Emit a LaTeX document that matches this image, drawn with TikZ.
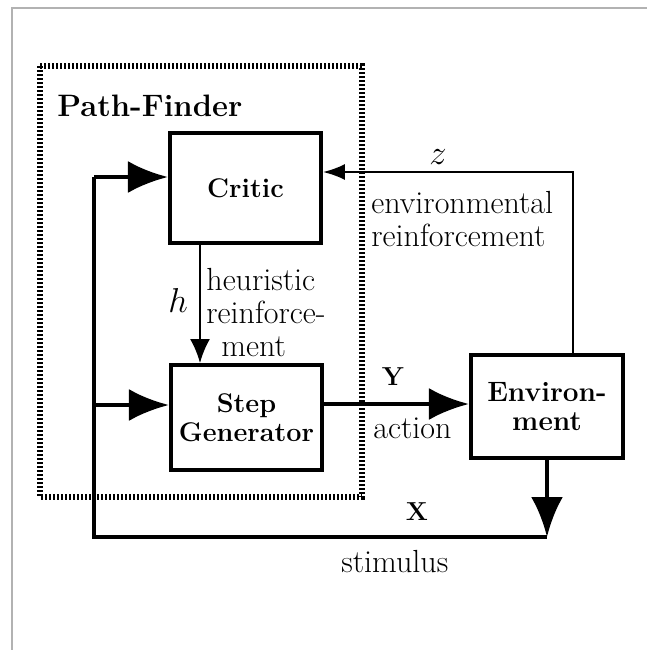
\documentclass[tikz,border=0pt]{standalone}
\usetikzlibrary{arrows.meta}
\begin{document}
\begin{tikzpicture}[
x=0.5pt, y=-0.5pt,
block/.style={
  draw,
  line width=2pt,
  minimum width=75.5pt,
  minimum height=53pt,
  inner sep=0pt,
  align=center,
  font=\fontsize{13.5}{14.5}\selectfont\bfseries
  },
group/.style={
  line width=2.6pt,
  dash pattern=on 1.2pt off 0.8pt
  },
bus/.style={line width=2.2pt},
wire/.style={line width=1pt},
big/.style={-{Latex[length=20pt,width=16pt]}},
small/.style={-{Latex[length=12pt,width=10pt]}},
lbl/.style={
  font=\fontsize{16}{16.5}\selectfont,
  inner sep=0pt,
  align=left
  },
>=latex
]
\useasboundingbox (0,0) rectangle (647,650);
% scan frame
\draw[gray!60, line width=0.6pt] (12,650) -- (12,8) -- (647,8);

% path-finder group
\draw[group] (40,66) rectangle (362,497);
\node[anchor=west, inner sep=0pt, font=\fontsize{15.5}{16}\selectfont\bfseries] (pftitle) at (57,106) {Path-Finder};

% blocks
\node[block, minimum height=55pt] (critic) at (245.5,188) {Critic};
\node[block, minimum height=52.5pt] (step) at (246.5,417.5) {Step\\Generator};
\node[block, minimum width=76pt, minimum height=51.5pt, font=\fontsize{14}{14.5}\selectfont\bfseries] (env) at (547,406.5) {Environ-\\ment};

% turning points
\coordinate (lt) at (94,177);
\coordinate (lm) at (94,405);
\coordinate (lb) at (94,537);
\coordinate (zc) at (573,172);
\coordinate (hx) at (200,0);
\coordinate (ay) at (0,404);

% stimulus loop
\draw[bus, big] (env.south) -- (env.south |- lb);
\draw[bus] (env.south |- lb) -- (lb) -- (lt);
\draw[bus, big] (lt) -- (lt -| critic.west);
\draw[bus, big] (lm) -- (lm -| step.west);

% action
\draw[bus, big] (step.east |- ay) -- (env.west |- ay);

% reinforcements
\draw[wire, -{Latex[length=11pt,width=8pt]}] (zc |- env.north) -- (zc) -- (zc -| critic.east);
\draw[wire, small] (critic.south -| hx) -- (step.north -| hx);

% labels
\node[lbl] (hlbl) at (178,300) {$h$};
\node[lbl, anchor=west] (heur) at (206,313) {heuristic\\reinforce-\\\hspace*{0.47em}ment};
\node[lbl] (zlbl) at (438,157) {$z$};
\node[lbl, anchor=west] (envr) at (371,219) {environmental\\reinforcement};
\node[lbl, font=\fontsize{13}{14}\selectfont\bfseries] (ylbl) at (393,377) {Y};
\node[lbl, anchor=west] (act) at (373,428) {action};
\node[lbl, font=\fontsize{13}{14}\selectfont\bfseries] (xlbl) at (417,512) {X};
\node[lbl, anchor=west] (stim) at (341,562) {stimulus};
\end{tikzpicture}
\end{document}
